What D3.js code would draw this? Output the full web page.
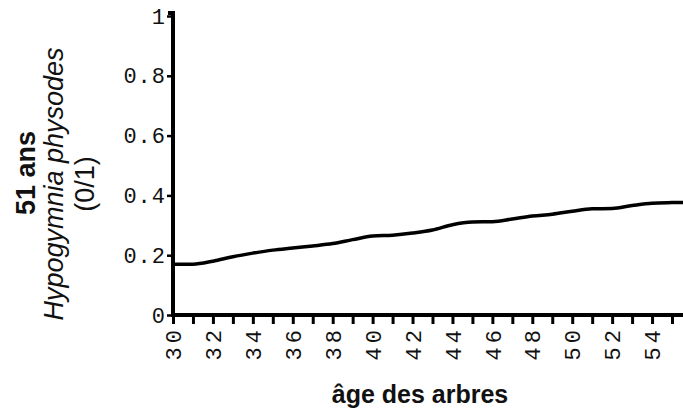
<!DOCTYPE html>
<html>
<head>
<meta charset="utf-8">
<script src="https://cdn.jsdelivr.net/npm/d3@7"></script>
<style>
  body { margin: 0; background: #fff; }
  svg { display: block; }
  .tick text { font-family: "Liberation Mono", monospace; }
</style>
</head>
<body>
<svg id="chart" width="683" height="416"></svg>
<script>
// age des arbres (years) and the fitted probability of Hypogymnia physodes presence
// (the curve runs on past the right edge of the picture, so 56 is cut off)
const ages = [30, 31, 32, 33, 34, 35, 36, 37, 38, 39, 40, 41, 42, 43, 44, 45, 46, 47, 48, 49, 50, 51, 52, 53, 54, 55, 56];
const presence = [0.17, 0.17, 0.18, 0.195, 0.207, 0.217, 0.224, 0.231, 0.239, 0.252, 0.264, 0.267, 0.274,
  0.284, 0.302, 0.311, 0.312, 0.321, 0.331, 0.337, 0.347, 0.355, 0.356, 0.366, 0.374, 0.376, 0.377];
const yTicks = [0, 0.2, 0.4, 0.6, 0.8, 1];
const xLabelTicks = [30, 32, 34, 36, 38, 40, 42, 44, 46, 48, 50, 52, 54];

const svg = d3.select('#chart');
const mLeft = 173, mTop = 16, mBottom = 315, mRight = 683;

const x = d3.scaleLinear().domain([30, 55.55]).range([mLeft, mRight]);
const y = d3.scaleLinear().domain([0, 1]).range([mBottom, mTop]);

// y axis
const yAxis = d3.axisLeft(y)
  .tickValues(yTicks)
  .tickFormat(d => d === 0 || d === 1 ? String(d) : d3.format('.1f')(d))
  .tickSize(6)
  .tickPadding(1);

const gy = svg.append('g')
  .attr('transform', `translate(${mLeft},0)`)
  .call(yAxis);
gy.select('.domain').style('stroke-width', '4px').attr('d', `M-5,${mTop - 3}H0V${mBottom}`);
gy.selectAll('.tick line').style('stroke-width', '2.5px');
gy.selectAll('.tick text')
  .style('font-size', '22px')
  .style('letter-spacing', '1px')
  .attr('fill', '#111');

// x axis: a tick every year, labels every two years
const xAxis = d3.axisBottom(x)
  .tickValues(ages)
  .tickFormat(d => xLabelTicks.includes(d) ? d : '')
  .tickSize(9)
  .tickPadding(4);

const gx = svg.append('g')
  .attr('transform', `translate(0,${mBottom})`)
  .call(xAxis);
gx.select('.domain').style('stroke-width', '4px').attr('d', `M${mLeft - 2},0H${mRight}`);
gx.selectAll('.tick line').style('stroke-width', '3px');
gx.selectAll('.tick text')
  .style('font-size', '22px')
  .style('letter-spacing', '4px')
  .attr('fill', '#111')
  .attr('transform', 'rotate(-90)')
  .attr('text-anchor', 'end')
  .attr('x', -11)
  .attr('y', 0)
  .attr('dy', '0.35em');

// line
const line = d3.line()
  .x((d, i) => x(ages[i]))
  .y(d => y(d))
  .curve(d3.curveMonotoneX);

svg.append('path')
  .datum(presence)
  .attr('fill', 'none')
  .attr('stroke', '#000')
  .attr('stroke-width', 3.5)
  .attr('stroke-linejoin', 'round')
  .attr('d', line);

// titles
svg.append('text')
  .attr('x', 420)
  .attr('y', 403)
  .attr('text-anchor', 'middle')
  .style('font-family', '"Liberation Sans", Arial, sans-serif')
  .style('font-weight', 'bold')
  .style('font-size', '25px')
  .attr('fill', '#111')
  .text('âge des arbres');

const yTitle = svg.append('g')
  .attr('transform', 'translate(0,184) rotate(-90)')
  .style('font-family', '"Liberation Sans", Arial, sans-serif')
  .style('font-size', '27px')
  .attr('fill', '#111')
  .attr('text-anchor', 'middle');

yTitle.append('text').attr('x', 11).attr('y', 35).style('font-weight', 'bold').text('51 ans');
yTitle.append('text').attr('x', 0).attr('y', 63).style('font-style', 'italic').text('Hypogymnia physodes');
yTitle.append('text').attr('x', 0).attr('y', 94).text('(0/1)');
</script>
</body>
</html>
